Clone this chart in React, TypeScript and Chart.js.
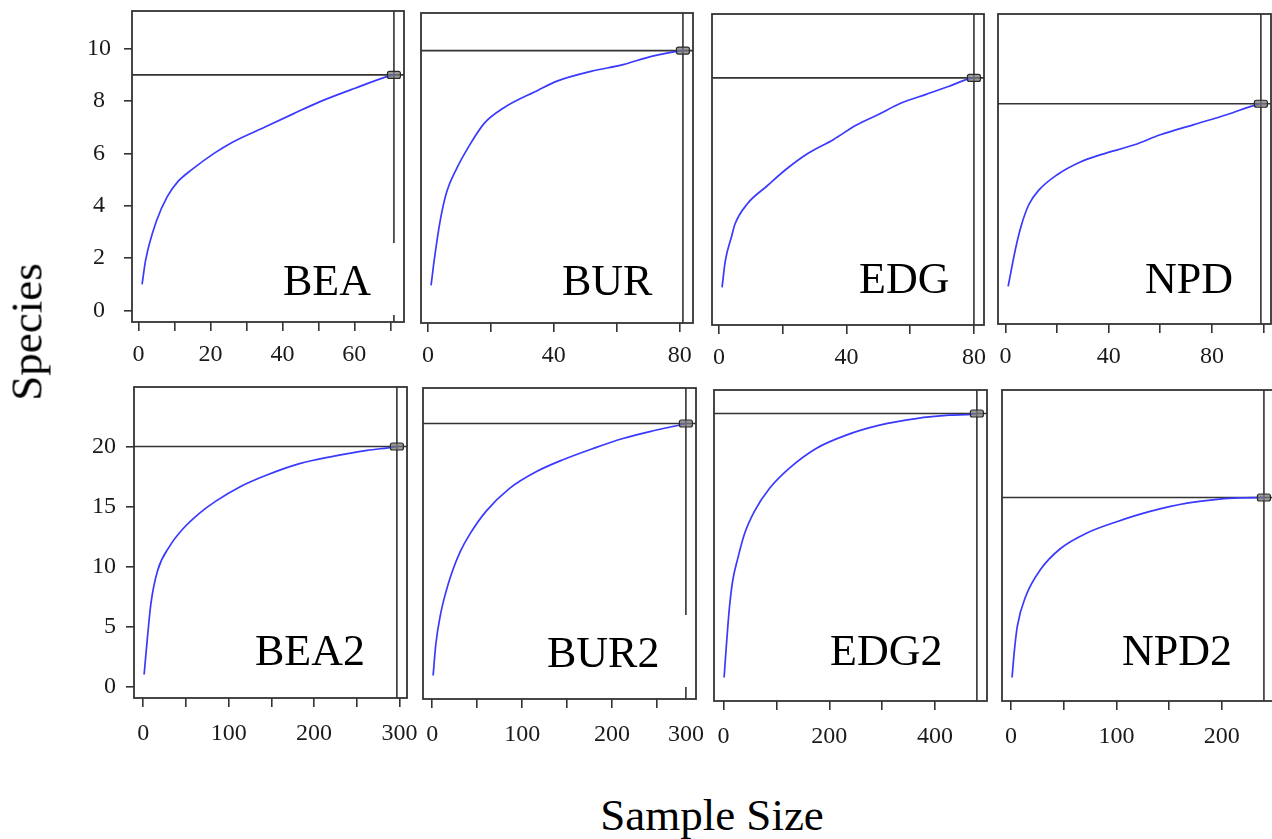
import React, { useEffect, useRef } from 'react';
import { Chart, registerables } from 'chart.js';

Chart.register(...registerables);

const SERIF = '"Liberation Serif", "Times New Roman", Times, serif';

// Rarefaction curves: sample size (n) and expected number of species (S) per site
const beaN = [1, 2, 5, 8, 11, 15, 21, 26, 35, 43, 50, 60, 70, 71];
const beaS = [1, 1.93, 3.42, 4.35, 4.93, 5.4, 6.0, 6.42, 7.0, 7.51, 7.95, 8.48, 8.97, 9];

const burN = [1, 2, 4, 6, 9, 13, 18, 24, 35, 41, 52, 62, 71, 79, 81];
const burS = [1, 1.97, 3.55, 4.6, 5.45, 6.33, 7.23, 7.8, 8.48, 8.83, 9.21, 9.46, 9.78, 9.97, 10];

const edgN = [1, 2, 4, 5, 9, 15, 21, 28, 36, 43, 50, 57, 65, 72, 78, 80];
const edgS = [1, 2.0, 2.95, 3.4, 4.2, 4.86, 5.5, 6.12, 6.65, 7.19, 7.6, 8.03, 8.37, 8.67, 8.95, 9];

const npdN = [1, 4, 6, 9, 13, 20, 29, 37, 50, 60, 73, 86, 97, 99];
const npdS = [1, 2.5, 3.3, 4.13, 4.7, 5.28, 5.77, 6.05, 6.43, 6.81, 7.2, 7.59, 7.96, 8];

const bea2N = [1, 5, 9, 17, 31, 46, 66, 85, 113, 144, 183, 222, 262, 293, 297];
const bea2S = [1, 4.16, 6.93, 9.7, 11.7, 13.1, 14.45, 15.45, 16.63, 17.6, 18.57, 19.18, 19.68, 19.95, 20];

const bur2N = [1, 4, 9, 15, 22, 31, 42, 60, 86, 116, 146, 179, 212, 246, 275, 282];
const bur2S = [1, 3.6, 6.0, 7.9, 9.6, 11.3, 12.8, 14.7, 16.6, 18.0, 19.0, 19.92, 20.75, 21.4, 21.88, 22];

const edg2N = [1, 5, 11, 17, 27, 39, 58, 87, 124, 175, 232, 295, 364, 427, 471, 479];
const edg2S = [1, 3.5, 6.8, 9.0, 10.95, 12.9, 14.82, 16.77, 18.43, 20.09, 21.2, 22.03, 22.58, 22.86, 22.94, 23];

const npd2N = [1, 3, 6, 14, 28, 47, 72, 101, 132, 167, 198, 217, 240];
const npd2S = [1, 3.07, 5.28, 7.77, 10.0, 11.75, 13.04, 14.0, 14.84, 15.53, 15.87, 15.97, 16];

// Axis ticks
const topYTicks = [0, 2, 4, 6, 8, 10];
const bottomYTicks = [0, 5, 10, 15, 20];
const topYRange = [0, 11];
const bottomYRange = [0, 24];

const beaXTicks = [0, 10, 20, 30, 40, 50, 60, 70];
const burXTicks = [0, 20, 40, 60, 80];
const edgXTicks = [0, 20, 40, 60, 80];
const npdXTicks = [0, 20, 40, 60, 80, 100];
const bea2XTicks = [0, 50, 100, 150, 200, 250, 300];
const bur2XTicks = [0, 50, 100, 150, 200, 250];
const edg2XTicks = [0, 100, 200, 300, 400];
const npd2XTicks = [0, 50, 100, 150, 200];

type PanelDef = {
  name: string;
  n: number[];
  s: number[];
  xTicks: number[];
  labelEvery: number;
  row: number;
  yAxis: boolean;
  box: [number, number, number, number]; // plot frame: left, top, right, bottom (page px)
  text: [number, number]; // site label: left x, baseline y (page px)
  mask?: boolean;
  trailingLabel?: string;
};

const panels: PanelDef[] = [
  { name: 'BEA', n: beaN, s: beaS, xTicks: beaXTicks, labelEvery: 20, row: 0, yAxis: true, box: [132, 11, 404, 322], text: [283, 295], mask: true },
  { name: 'BUR', n: burN, s: burS, xTicks: burXTicks, labelEvery: 40, row: 0, yAxis: false, box: [421, 13, 693, 323], text: [562, 295] },
  { name: 'EDG', n: edgN, s: edgS, xTicks: edgXTicks, labelEvery: 40, row: 0, yAxis: false, box: [712, 14, 984, 325], text: [859, 293] },
  { name: 'NPD', n: npdN, s: npdS, xTicks: npdXTicks, labelEvery: 40, row: 0, yAxis: false, box: [998, 14, 1271, 324], text: [1145, 293] },
  { name: 'BEA2', n: bea2N, s: bea2S, xTicks: bea2XTicks, labelEvery: 100, row: 1, yAxis: true, box: [134, 387, 407, 698], text: [255, 665] },
  { name: 'BUR2', n: bur2N, s: bur2S, xTicks: bur2XTicks, labelEvery: 100, row: 1, yAxis: false, box: [423, 388, 696, 699], text: [547, 667], mask: true, trailingLabel: '300' },
  { name: 'EDG2', n: edg2N, s: edg2S, xTicks: edg2XTicks, labelEvery: 200, row: 1, yAxis: false, box: [714, 390, 987, 701], text: [830, 665] },
  { name: 'NPD2', n: npd2N, s: npd2S, xTicks: npd2XTicks, labelEvery: 100, row: 1, yAxis: false, box: [1002, 390, 1274, 701], text: [1122, 665] },
];

const LINE = '#333333';
const CURVE = '#3a3aff';

// R-style 4% range extension
const extend = (lo: number, hi: number): [number, number] => {
  const d = (hi - lo) * 0.04;
  return [lo - d, hi + d];
};

const decorPlugin = {
  id: 'panelDecor',
  beforeDatasetsDraw(chart: any, _args: any, opts: any) {
    const { ctx, chartArea: a, scales } = chart;
    const px = scales.x.getPixelForValue(opts.nEnd);
    const py = scales.y.getPixelForValue(opts.sEnd);
    ctx.save();
    ctx.strokeStyle = LINE;
    ctx.lineWidth = 1.8;
    ctx.strokeRect(a.left, a.top, a.right - a.left, a.bottom - a.top);
    ctx.lineWidth = 1.6;
    ctx.beginPath();
    ctx.moveTo(a.left, py);
    ctx.lineTo(a.right, py);
    ctx.moveTo(px, a.top);
    ctx.lineTo(px, a.bottom);
    ctx.stroke();
    ctx.restore();
  },
  afterDatasetsDraw(chart: any, _args: any, opts: any) {
    const { ctx, chartArea: a, scales } = chart;
    const px = scales.x.getPixelForValue(opts.nEnd);
    const py = scales.y.getPixelForValue(opts.sEnd);
    ctx.save();
    // end-of-curve marker
    ctx.beginPath();
    if (ctx.roundRect) ctx.roundRect(px - 6.5, py - 3.5, 13, 7, 2);
    else ctx.rect(px - 6.5, py - 3.5, 13, 7);
    ctx.fillStyle = 'rgba(120,120,120,0.75)';
    ctx.fill();
    ctx.strokeStyle = '#2a2a2a';
    ctx.lineWidth = 1.2;
    ctx.stroke();

    const tx = opts.text[0] - opts.offset[0];
    const ty = opts.text[1] - opts.offset[1];
    ctx.font = `44px ${SERIF}`;
    if (opts.mask) {
      ctx.fillStyle = '#ffffff';
      ctx.fillRect(tx - 4, ty - 52, px + 2.5 - (tx - 4), 72);
    }
    ctx.fillStyle = '#000000';
    ctx.textAlign = 'left';
    ctx.textBaseline = 'alphabetic';
    ctx.fillText(opts.name, tx, ty);

    if (opts.trailingLabel) {
      ctx.font = `24px ${SERIF}`;
      ctx.fillStyle = '#1a1a1a';
      ctx.textAlign = 'center';
      ctx.textBaseline = 'middle';
      ctx.fillText(opts.trailingLabel, a.right - 10, a.bottom + 9 + opts.xPad + 14.4);
    }
    ctx.restore();
  },
};

const PAD_R = 20;
const PAD_T = 10;
const PAD_B = 62;

function Panel({ p }: { p: PanelDef }) {
  const ref = useRef<HTMLCanvasElement | null>(null);
  const padL = p.yAxis ? 110 : 20;
  const [l, t, r, b] = p.box;
  const left = l - padL;
  const top = t - PAD_T;
  const width = r - l + padL + PAD_R;
  const height = b - t + PAD_T + PAD_B;

  useEffect(() => {
    if (!ref.current) return;
    const nEnd = p.n[p.n.length - 1];
    const sEnd = p.s[p.s.length - 1];
    const [xMin, xMax] = extend(p.n[0], nEnd);
    const yr = p.row === 0 ? topYRange : bottomYRange;
    const [yMin, yMax] = extend(yr[0], yr[1]);
    const yTicks = p.row === 0 ? topYTicks : bottomYTicks;
    const xPad = p.row === 0 ? 9 : 12;
    const tickFont = { family: SERIF, size: 24 };

    const chart = new Chart(ref.current, {
      type: 'line',
      data: {
        datasets: [
          {
            data: p.n.map((v, i) => ({ x: v, y: p.s[i] })),
            borderColor: CURVE,
            borderWidth: 1.7,
            pointRadius: 0,
            fill: false,
            cubicInterpolationMode: 'monotone',
          },
        ],
      },
      options: {
        animation: false,
        responsive: false,
        events: [],
        layout: { padding: { left: p.yAxis ? 0 : padL, right: PAD_R, top: PAD_T, bottom: 0 } },
        plugins: {
          legend: { display: false },
          tooltip: { enabled: false },
          panelDecor: {
            nEnd,
            sEnd,
            name: p.name,
            text: p.text,
            offset: [left, top],
            mask: !!p.mask,
            trailingLabel: p.trailingLabel,
            xPad,
          },
        } as any,
        scales: {
          x: {
            type: 'linear',
            min: xMin,
            max: xMax,
            afterBuildTicks: (s: any) => {
              s.ticks = p.xTicks.map((v) => ({ value: v }));
            },
            afterFit: (s: any) => {
              s.height = PAD_B;
              s.paddingLeft = 0;
              s.paddingRight = 0;
            },
            grid: { display: true, drawOnChartArea: false, drawTicks: true, tickLength: 9, color: LINE, lineWidth: 1.6 },
            border: { display: false },
            ticks: {
              padding: xPad,
              autoSkip: false,
              maxRotation: 0,
              font: tickFont,
              color: '#1a1a1a',
              callback: (v: any) => (Number(v) % p.labelEvery === 0 ? String(v) : ''),
            },
          },
          y: {
            type: 'linear',
            display: p.yAxis,
            min: yMin,
            max: yMax,
            afterBuildTicks: (s: any) => {
              s.ticks = yTicks.map((v) => ({ value: v }));
            },
            afterFit: (s: any) => {
              s.width = p.yAxis ? padL : 0;
              s.paddingTop = 0;
              s.paddingBottom = 0;
            },
            grid: { display: true, drawOnChartArea: false, drawTicks: true, tickLength: 8, color: LINE, lineWidth: 1.6 },
            border: { display: false },
            ticks: {
              padding: p.row === 0 ? 13 : 10,
              crossAlign: p.row === 0 ? 'center' : 'near',
              font: tickFont,
              color: '#1a1a1a',
              callback: (v: any) => String(v),
            },
          },
        },
      } as any,
      plugins: [decorPlugin],
    });
    return () => chart.destroy();
  }, []);

  return (
    <canvas
      ref={ref}
      width={width}
      height={height}
      style={{ position: 'absolute', left, top, width, height }}
    />
  );
}

export default function App() {
  return (
    <div
      style={{
        position: 'fixed',
        left: 0,
        top: 0,
        width: 1272,
        height: 839,
        overflow: 'hidden',
        background: '#ffffff',
      }}
    >
      {panels.map((p) => (
        <Panel key={p.name} p={p} />
      ))}
      <div
        style={{
          position: 'absolute',
          left: 27,
          top: 332,
          transform: 'translate(-50%, -50%) rotate(-90deg)',
          font: `45px ${SERIF}`,
          lineHeight: 1,
          whiteSpace: 'nowrap',
          color: '#000',
        }}
      >
        Species
      </div>
      <div
        style={{
          position: 'absolute',
          left: 712,
          top: 793,
          transform: 'translateX(-50%)',
          font: `45px ${SERIF}`,
          lineHeight: 1,
          whiteSpace: 'nowrap',
          color: '#000',
        }}
      >
        Sample Size
      </div>
    </div>
  );
}
